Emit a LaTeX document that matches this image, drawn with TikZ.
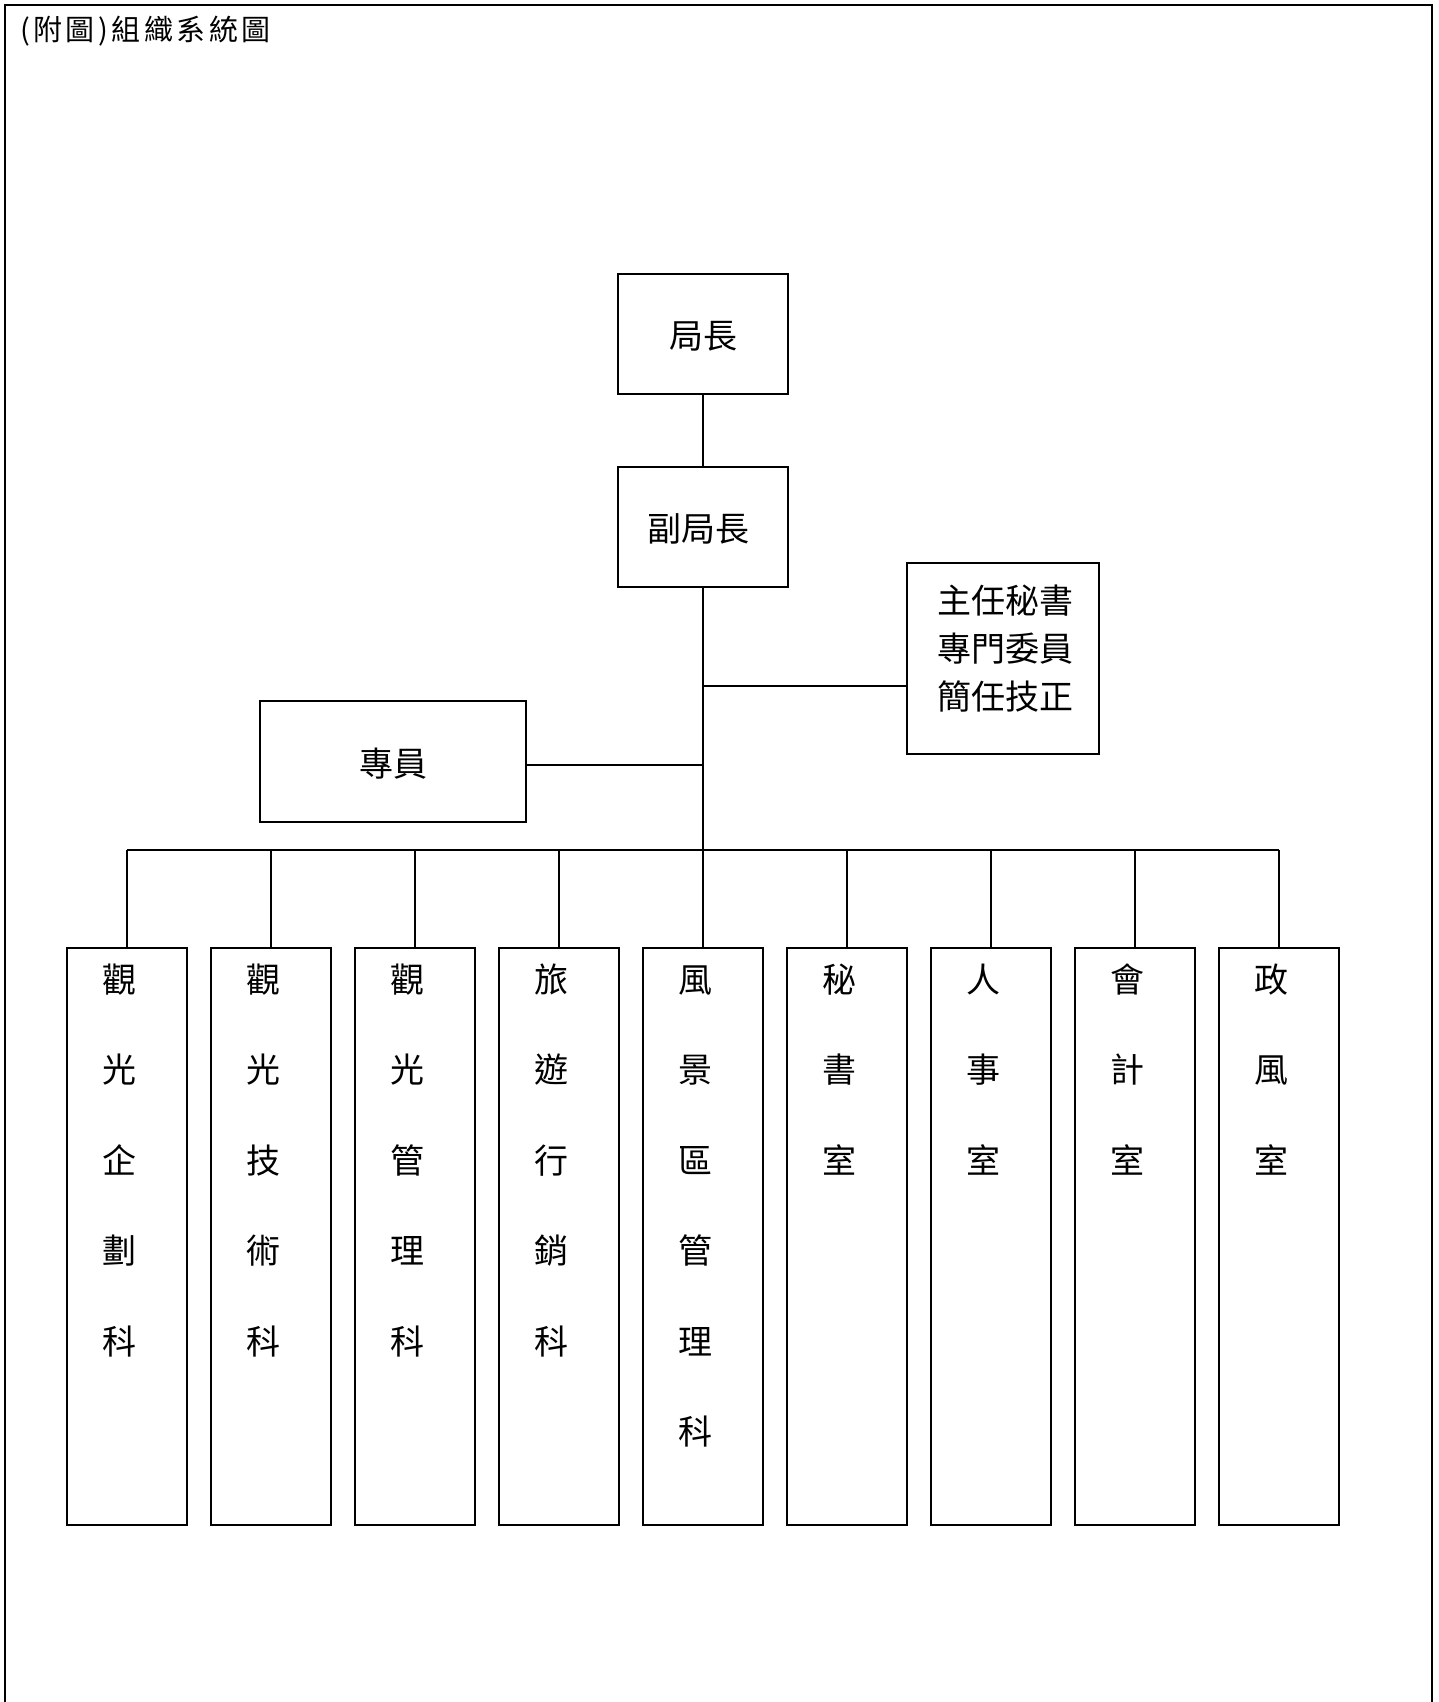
\documentclass[tikz,border=0pt]{standalone}
\usepackage{fontspec}
\newfontfamily\cjk{Noto Sans CJK TC}
\newfontfamily\cjktitle[LetterSpace=12]{Noto Sans CJK TC}
\tikzset{
  box/.style={draw, line width=1.8pt, inner sep=0pt},
  lbl/.style={font=\cjk\fontsize{34}{40}\selectfont, inner sep=0pt, text height=30pt, text depth=4pt},
  colbox/.style={box, minimum width=120pt, minimum height=577pt, anchor=north},
  link/.style={line width=1.8pt},
}
\begin{document}
\begin{tikzpicture}[x=1pt,y=-1pt]
\useasboundingbox (0,0) rectangle (1439,1702);
% outer frame (open at the bottom)
\draw[line width=2.4pt] (5,1702) -- (5,5) -- (1432,5) -- (1432,1702);
% title
\node[font=\cjktitle\fontsize{29}{32}\selectfont, inner sep=0pt, anchor=west] (title) at (20,31) {(附圖)組織系統圖};
% top boxes
\node[box, minimum width=170pt, minimum height=120pt] (chief) at (703,334) {};
\node[lbl] (chieft) at (703,335) {局長};
\node[box, minimum width=170pt, minimum height=120pt] (deputy) at (703,527) {};
\node[lbl] (deputyt) at (698,528) {副局長};
\node[box, minimum width=192pt, minimum height=191pt] (sec) at (1003,658.5) {};
\node[font=\cjk\fontsize{34}{48}\selectfont, inner sep=0pt, align=center] (sect) at (1005,649) {主任秘書\\專門委員\\簡任技正};
\node[box, minimum width=266pt, minimum height=121pt] (spec) at (393,761.5) {};
\node[lbl] (spect) at (393,763) {專員};
% bottom columns
\foreach \i/\txt in {1/{觀,光,企,劃,科},2/{觀,光,技,術,科},3/{觀,光,管,理,科},4/{旅,遊,行,銷,科},5/{風,景,區,管,理,科},6/{秘,書,室},7/{人,事,室},8/{會,計,室},9/{政,風,室}}{
  \node[colbox] (c\i) at ({127+144*(\i-1)},947) {};
  \foreach \ch [count=\k from 0] in \txt {
    \node[lbl] (c\i t\k) at ({119+144*(\i-1)},{979+90.5*\k}) {\ch};
  }
}
% connectors
\coordinate (bus) at (703,850);
\coordinate (jsec) at (703,686);
\coordinate (jspec) at (703,765);
\draw[link] (chief.south) -- (deputy.north);
\draw[link] (deputy.south) -- (deputy.south |- bus);
\draw[link] (jsec) -- (jsec -| sec.west);
\draw[link] (jspec -| spec.east) -- (jspec);
\draw[link] (c1.north |- bus) -- (c9.north |- bus);
\foreach \i in {1,...,9}{
  \draw[link] (c\i.north) -- (c\i.north |- bus);
}
\end{tikzpicture}
\end{document}
